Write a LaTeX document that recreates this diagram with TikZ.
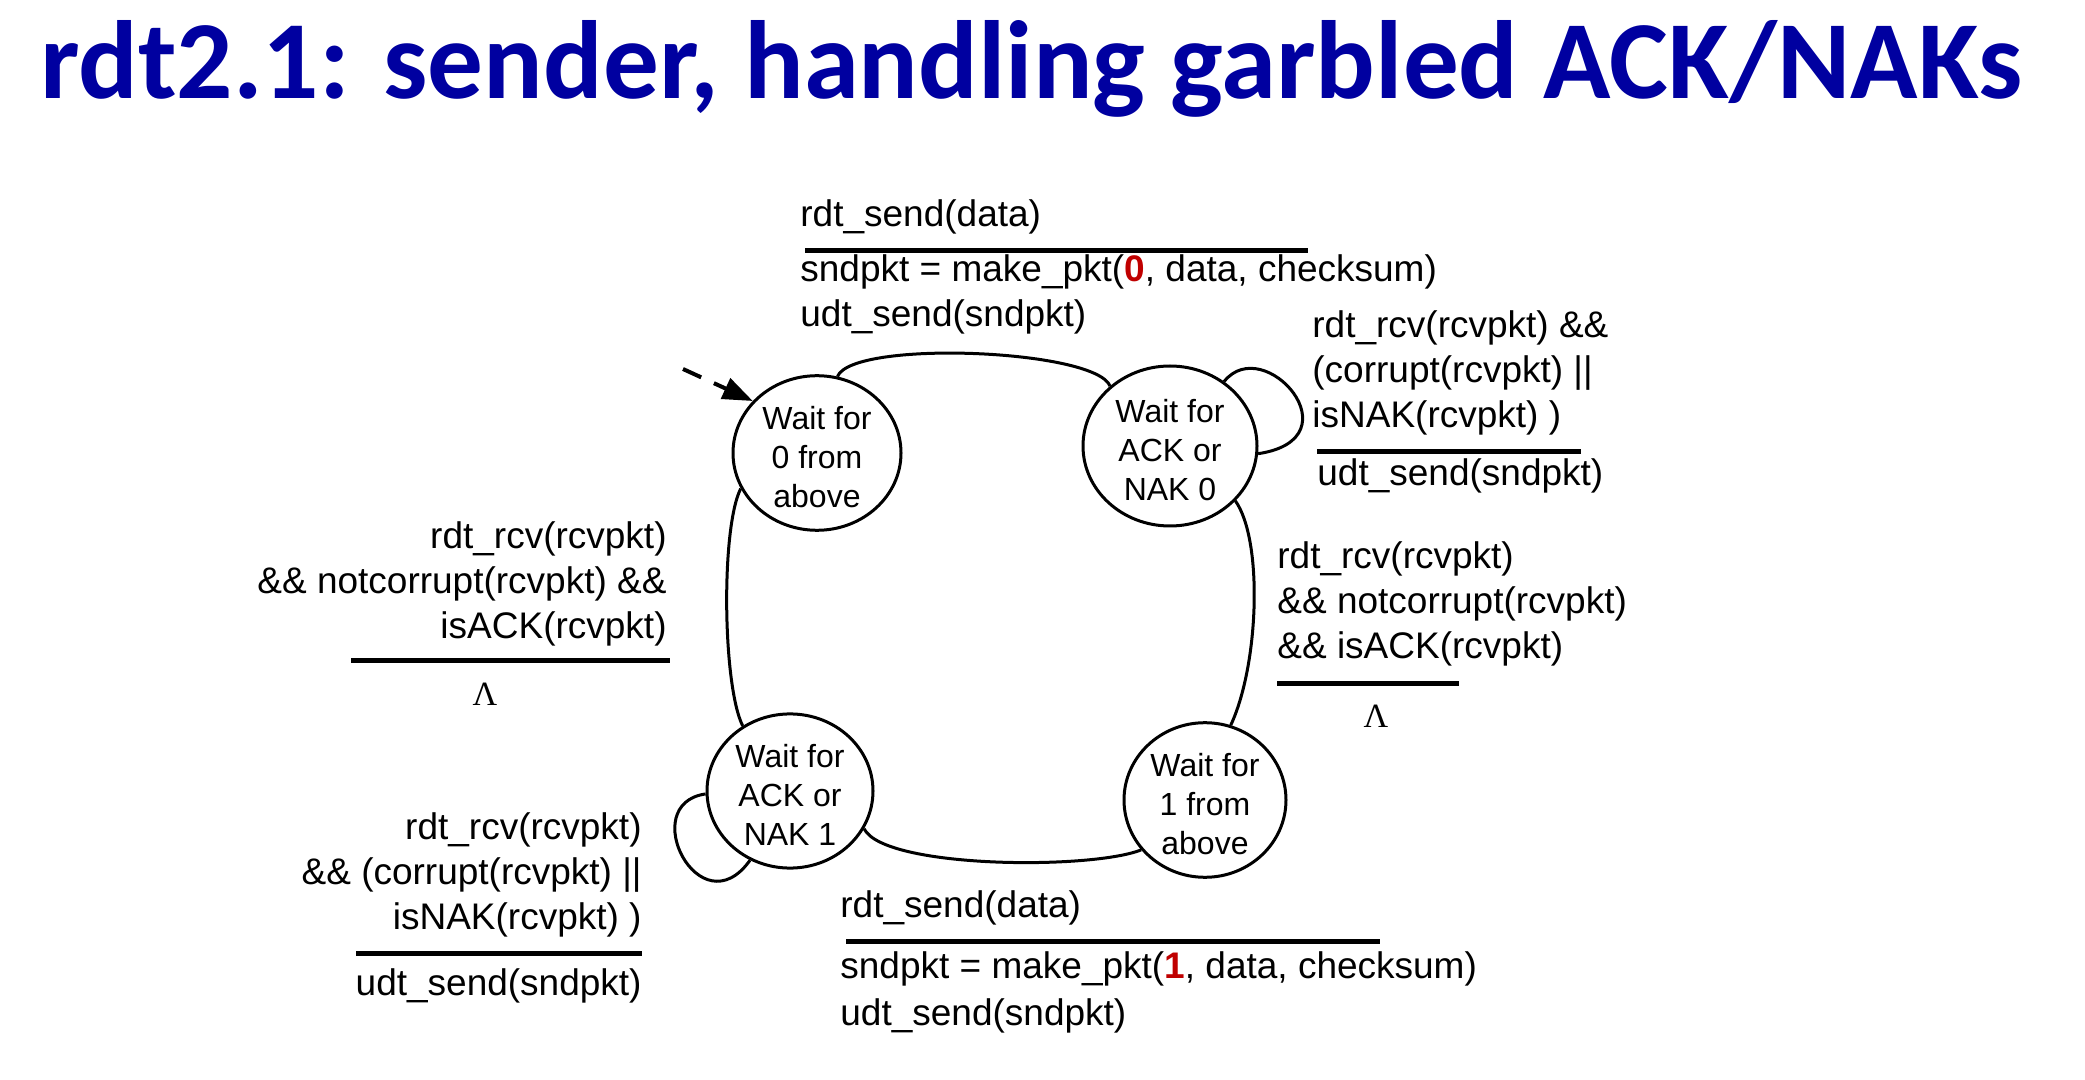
\documentclass[tikz,border=0pt]{standalone}
\usepackage{fontspec}
\setmainfont{Liberation Sans}
\newfontfamily\titlefont{Carlito}
\newfontfamily\lamfont{Liberation Serif}
\usetikzlibrary{shapes.geometric,arrows.meta}
\definecolor{titleblue}{RGB}{0,0,160}
\definecolor{pktred}{RGB}{192,0,0}
% a zero-width strut that sets the height of the first line in a state
\newcommand{\firstline}{\rule{0pt}{15.5pt}}
\tikzset{
  state/.style={ellipse, draw, line width=1.5pt, inner sep=0pt, align=center,
    font=\fontsize{16}{19.5}\selectfont},
  trans/.style={line width=1.5pt},
  guard/.style={inner sep=0pt, font=\fontsize{18.5}{22.5}\selectfont},
  bar/.style={line width=2.5pt},
  lam/.style={inner sep=0pt, font=\lamfont\fontsize{17}{19}\selectfont},
}
\begin{document}
\begin{tikzpicture}[x=0.5pt,y=-0.5pt]
  \useasboundingbox[fill=white] (0,0) rectangle (2085,1080);

  % heading
  \node[anchor=base west, inner sep=0pt, text=titleblue,
        font=\titlefont\bfseries\fontsize{55.6}{62}\selectfont]
    (title) at (40,99) {rdt2.1: sender, handling garbled ACK/NAKs};

  % states
  \node[state, minimum width=84pt, minimum height=77pt] (s0) at (817,453) {\firstline Wait for\\0 from\\above};
  \node[state, minimum width=87pt, minimum height=80pt] (s1) at (1170,446) {\firstline Wait for\\ACK or\\NAK 0};
  \node[state, minimum width=81pt, minimum height=75pt] (s2) at (1205,800) {\firstline Wait for\\1 from\\above};
  \node[state, minimum width=83pt, minimum height=76pt] (s3) at (790,791) {\firstline Wait for\\ACK or\\NAK 1};

  % initial transition
  \coordinate (init) at (683,369);
  \draw[line width=2pt, dash pattern=on 10pt off 7pt,
        -{Triangle[length=15pt,width=11pt]}] (init) -- (s0.141);

  % transitions
  \draw[trans] (s0.75) .. controls +(15,-37) and +(-15,-37) .. (s1.135);
  \draw[trans] (s1.50) .. controls +(40,-50) and +(100,-15) .. (s1.-5);
  \draw[trans] (s1.-40) .. controls +(28,40) and +(28,-60) .. (s2.71);
  \draw[trans] (s2.218) .. controls +(-50,20) and +(20,40) .. (s3.-27);
  \draw[trans] (s3.182) .. controls +(-70,10) and +(-50,70) .. (s3.240);
  \draw[trans] (s3.126) .. controls +(-20,-40) and +(-20,40) .. (s0.205);

  % top: s0 -> s1
  \node[guard, anchor=base west] (ta) at (800,227) {rdt\_send(data)};
  \draw[bar] (805,251) -- (1308,251);
  \node[guard, anchor=base west] (tb) at (800,282) {sndpkt = make\_pkt({\bfseries\color{pktred}0}, data, checksum)};
  \node[guard, anchor=base west] (tc) at (800,327) {udt\_send(sndpkt)};

  % right top: s1 self loop
  \node[guard, anchor=base west] (ra) at (1312,338) {rdt\_rcv(rcvpkt) \&\&};
  \node[guard, anchor=base west] (rb) at (1312,383) {(corrupt(rcvpkt) ||};
  \node[guard, anchor=base west] (rc) at (1312,428) {isNAK(rcvpkt) )};
  \draw[bar] (1317,452) -- (1581,452);
  \node[guard, anchor=base west] (rd) at (1317,486) {udt\_send(sndpkt)};

  % right middle: s1 -> s2
  \node[guard, anchor=base west] (ma) at (1277,569) {rdt\_rcv(rcvpkt)};
  \node[guard, anchor=base west] (mb) at (1277,614) {\&\& notcorrupt(rcvpkt)};
  \node[guard, anchor=base west] (mc) at (1277,659) {\&\& isACK(rcvpkt)};
  \draw[bar] (1277,684) -- (1459,684);
  \node[lam, anchor=base] (ml) at (1376,727) {Λ};

  % left middle: s3 -> s0
  \node[guard, anchor=base east] (la) at (667,549) {rdt\_rcv(rcvpkt)};
  \node[guard, anchor=base east] (lb) at (667,594) {\&\& notcorrupt(rcvpkt) \&\&};
  \node[guard, anchor=base east] (lc) at (667,639) {isACK(rcvpkt)};
  \draw[bar] (351,661) -- (670,661);
  \node[lam, anchor=base] (ll) at (485,705) {Λ};

  % bottom left: s3 self loop
  \node[guard, anchor=base east] (ba) at (642,839) {rdt\_rcv(rcvpkt)};
  \node[guard, anchor=base east] (bb) at (642,884) {\&\& (corrupt(rcvpkt) ||};
  \node[guard, anchor=base east] (bc) at (642,929) {isNAK(rcvpkt) )};
  \draw[bar] (356,953) -- (642,953);
  \node[guard, anchor=base east] (bd) at (642,995) {udt\_send(sndpkt)};

  % bottom: s2 -> s3
  \node[guard, anchor=base west] (da) at (840,917) {rdt\_send(data)};
  \draw[bar] (846,941) -- (1380,941);
  \node[guard, anchor=base west] (db) at (840,978) {sndpkt = make\_pkt({\bfseries\color{pktred}1}, data, checksum)};
  \node[guard, anchor=base west] (dc) at (840,1025) {udt\_send(sndpkt)};
\end{tikzpicture}
\end{document}
